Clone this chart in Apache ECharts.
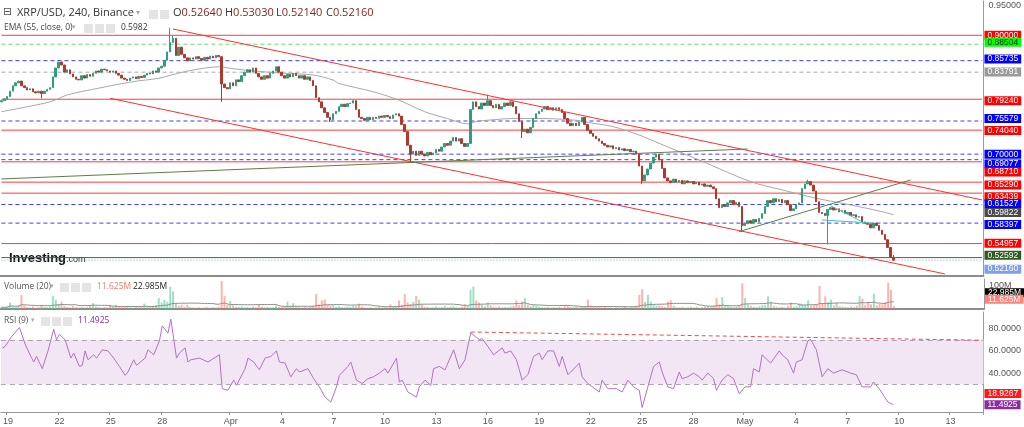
<!DOCTYPE html>
<html>
<head>
<meta charset="utf-8">
<script src="https://cdn.jsdelivr.net/npm/echarts@6/dist/echarts.min.js"></script>
<style>
html, body { margin: 0; padding: 0; background: #fff; }
#chart { width: 1024px; height: 427px; }
</style>
</head>
<body>
<div id="chart"></div>
<script>
// XRP/USD 4h candles, 18 Mar 16:00 -> 9 May 16:00
const firstOpen = 0.788;
const closes = [
    0.790, 0.793,
    0.797, 0.806, 0.815, 0.820, 0.823, 0.815,
    0.812, 0.808, 0.810, 0.805, 0.803, 0.806,
    0.802, 0.806, 0.809, 0.812, 0.830, 0.845,
    0.855, 0.850, 0.838, 0.842, 0.835, 0.830,
    0.826, 0.825, 0.832, 0.828, 0.834, 0.831,
    0.836, 0.840, 0.838, 0.843, 0.842, 0.840,
    0.838, 0.840, 0.836, 0.833, 0.828, 0.826,
    0.824, 0.828, 0.830, 0.827, 0.831, 0.829,
    0.833, 0.836, 0.835, 0.840, 0.838, 0.845,
    0.848, 0.858, 0.872, 0.888, 0.895, 0.866,
    0.880, 0.868, 0.862, 0.857, 0.862, 0.860,
    0.864, 0.861, 0.858, 0.863, 0.860, 0.865,
    0.862, 0.866, 0.864, 0.818, 0.812, 0.810,
    0.820, 0.815, 0.825, 0.822, 0.832, 0.838,
    0.842, 0.838, 0.845, 0.836, 0.830, 0.826,
    0.832, 0.828, 0.836, 0.840, 0.847, 0.838,
    0.832, 0.828, 0.834, 0.830, 0.836, 0.832,
    0.828, 0.832, 0.826, 0.830, 0.824, 0.815,
    0.795, 0.788, 0.778, 0.770, 0.762, 0.758,
    0.768, 0.772, 0.780, 0.784, 0.780, 0.785,
    0.786, 0.790, 0.775, 0.762, 0.760, 0.757,
    0.762, 0.758, 0.762, 0.760, 0.764, 0.762,
    0.765, 0.763, 0.760, 0.766, 0.768, 0.764,
    0.750, 0.738, 0.715, 0.700, 0.705, 0.698,
    0.705, 0.700, 0.697, 0.703, 0.699, 0.702,
    0.708, 0.705, 0.712, 0.718, 0.715, 0.722,
    0.728, 0.722, 0.726, 0.718, 0.713, 0.718,
    0.775, 0.788, 0.780, 0.776, 0.786, 0.782,
    0.790, 0.782, 0.778, 0.784, 0.776, 0.780,
    0.786, 0.782, 0.788, 0.780, 0.768, 0.755,
    0.738, 0.742, 0.736, 0.745, 0.760, 0.768,
    0.772, 0.776, 0.780, 0.775, 0.778, 0.774,
    0.778, 0.775, 0.770, 0.760, 0.752, 0.748,
    0.752, 0.748, 0.754, 0.762, 0.750, 0.740,
    0.735, 0.730, 0.726, 0.722, 0.718, 0.715,
    0.712, 0.714, 0.709, 0.711, 0.707, 0.709,
    0.706, 0.708, 0.704, 0.705, 0.700, 0.680,
    0.655, 0.665, 0.675, 0.685, 0.695, 0.700,
    0.690, 0.676, 0.660, 0.655, 0.652, 0.658,
    0.653, 0.656, 0.650, 0.655, 0.652, 0.654,
    0.650, 0.653, 0.648, 0.650, 0.646, 0.648,
    0.645, 0.642, 0.625, 0.610, 0.615, 0.612,
    0.618, 0.622, 0.615, 0.619, 0.612, 0.580,
    0.583, 0.588, 0.584, 0.590, 0.586, 0.592,
    0.600, 0.612, 0.622, 0.618, 0.625, 0.620,
    0.624, 0.618, 0.622, 0.615, 0.605, 0.608,
    0.615, 0.618, 0.642, 0.650, 0.654, 0.648,
    0.638, 0.620, 0.602, 0.600, 0.597, 0.607,
    0.610, 0.606, 0.608, 0.603, 0.605, 0.600,
    0.602, 0.597, 0.598, 0.594, 0.595, 0.586,
    0.584, 0.582, 0.576, 0.584, 0.580, 0.572,
    0.565, 0.556, 0.543, 0.5264, 0.5216
];
// long wicks (index -> price)
const highWicks = { 59: 0.912, 60: 0.900, 170: 0.800, 282: 0.657, 312: 0.5303 };
const lowWicks = { 14: 0.794, 77: 0.788, 115: 0.754, 143: 0.687, 182: 0.727, 224: 0.650, 259: 0.569, 289: 0.548, 312: 0.5214 };
const lastOpen = 0.5264;

// volume, millions
const volumes = [
    8, 6,
    10, 28, 12, 9, 14, 61,
    15, 9, 7, 11, 6, 8,
    18, 9, 7, 10, 56, 40,
    22, 32, 14, 9, 7, 12,
    8, 6, 10, 7, 9, 14,
    25, 11, 8, 6, 9, 7,
    18, 10, 18, 12, 8, 9,
    14, 7, 6, 9, 8, 11,
    23, 12, 9, 14, 16, 47,
    28, 40, 30, 96, 75, 22,
    14, 18, 10, 18, 9, 7,
    6, 8, 5, 7, 9, 6,
    8, 7, 10, 120, 56, 18,
    35, 16, 10, 9, 12, 8,
    9, 7, 11, 8, 20, 10,
    7, 9, 6, 8, 15, 9,
    8, 12, 32, 14, 25, 10,
    8, 6, 9, 7, 11, 14,
    65, 20, 37, 40, 18, 15,
    16, 10, 12, 9, 8, 11,
    9, 14, 12, 23, 10, 7,
    6, 8, 5, 7, 9, 6,
    8, 7, 20, 9, 12, 37,
    18, 65, 28, 22, 30, 56,
    40, 18, 10, 9, 7, 8,
    11, 7, 9, 13, 8, 10,
    12, 9, 7, 10, 20, 14,
    82, 96, 37, 28, 18, 12,
    28, 16, 10, 8, 12, 7,
    9, 8, 11, 14, 37, 18,
    32, 47, 20, 12, 16, 14,
    10, 8, 7, 9, 6, 8,
    7, 9, 6, 11, 13, 9,
    8, 10, 7, 12, 9, 40,
    15, 10, 8, 9, 7, 8,
    6, 7, 5, 8, 6, 7,
    9, 6, 8, 10, 14, 61,
    85, 30, 61, 32, 18, 14,
    16, 12, 10, 32, 37, 14,
    8, 7, 9, 6, 8, 10,
    7, 9, 6, 8, 10, 12,
    9, 14, 47, 20, 51, 16,
    12, 10, 8, 11, 16, 110,
    47, 20, 14, 10, 9, 12,
    16, 18, 54, 32, 14, 10,
    8, 9, 7, 12, 28, 10,
    12, 25, 20, 18, 37, 14,
    16, 20, 99, 24, 54, 30,
    40, 16, 28, 12, 10, 9,
    8, 11, 9, 14, 56, 45,
    18, 32, 20, 65, 16, 22,
    20, 30, 113, 82, 11.625
];

// EMA(55): [candle index, value]
const emaPoints = [
    [0, 0.7715], [17, 0.788], [23, 0.7996], [34, 0.811], [46, 0.822], [55, 0.8276],
    [60, 0.834], [67, 0.8416], [76, 0.847], [80, 0.8445], [87, 0.8405], [99, 0.836],
    [109, 0.8332], [116, 0.8248], [118, 0.819], [130, 0.805], [139, 0.791], [148, 0.7715],
    [156, 0.760], [163, 0.751], [166, 0.7547], [171, 0.7575], [179, 0.760], [188, 0.760],
    [200, 0.7575], [207, 0.752], [214, 0.7463], [223, 0.7323], [230, 0.7183], [244, 0.6903],
    [262, 0.6538], [273, 0.640], [285, 0.6258], [297, 0.6146], [308, 0.6033], [312, 0.5982]
];

// RSI(9): [candle index, value]
const rsiPoints = [
    [0, 62.7], [1, 64], [3, 72], [6, 81], [8, 66], [10, 55], [11, 50], [12, 55], [14, 44], [16, 60],
    [18, 79.5], [19, 70], [20, 75], [22, 70], [24, 53.5], [25, 58], [27, 46], [28, 47], [29, 60], [30, 52],
    [32, 56.5], [33, 53.5], [35, 61], [37, 60], [39, 53.5], [41, 46], [43, 38], [44, 41], [46, 52], [47, 47],
    [50, 53.5], [51, 61], [53, 56.5], [55, 69], [56, 82.5], [58, 76], [59, 88.6], [61, 53.5], [62, 58], [64, 62.7],
    [65, 50], [66, 52], [69, 53.5], [72, 50], [76, 56.5], [77, 26], [79, 24.5], [81, 33.7], [82, 29], [85, 44],
    [86, 53.5], [88, 50], [90, 43], [92, 53.5], [94, 55], [96, 60], [97, 50], [99, 49], [101, 36.7], [103, 44],
    [104, 41], [107, 44], [109, 35], [111, 27.6], [113, 18.4], [115, 14], [117, 27.6], [118, 38], [121, 46], [122, 50],
    [124, 33.7], [126, 30.6], [128, 35], [130, 36.7], [132, 40], [134, 44], [135, 40], [138, 53.5], [139, 32], [140, 33.7],
    [142, 23], [145, 18.4], [146, 27.6], [148, 33.7], [150, 29], [151, 44], [153, 46], [155, 43], [158, 61], [160, 44],
    [162, 52], [164, 76.4], [166, 72], [167, 70.3], [168, 71], [170, 64], [172, 56.5], [175, 62.7], [176, 58], [178, 60],
    [180, 52], [181, 43], [182, 33.7], [184, 38.6], [186, 55], [188, 58], [189, 52], [191, 60], [193, 60], [195, 46],
    [196, 55], [198, 38.6], [199, 41], [202, 49], [203, 36.7], [205, 30.6], [209, 23], [210, 33.7], [212, 26], [215, 26],
    [217, 23], [219, 33.7], [221, 27.6], [223, 24.5], [224, 9], [226, 27.6], [228, 46], [230, 50], [231, 41], [233, 27.6],
    [235, 26], [237, 41], [238, 35], [240, 36.7], [242, 40], [244, 36.7], [245, 33.7], [247, 40], [249, 35], [250, 24.5],
    [252, 33.7], [254, 38.6], [256, 35], [258, 21.4], [260, 27.6], [262, 27.6], [263, 44], [265, 41], [266, 56.5], [269, 49],
    [272, 60], [273, 56.5], [275, 52], [277, 40], [278, 50], [280, 52], [282, 69], [283, 70.3], [285, 61], [287, 36.7],
    [289, 44], [291, 40], [294, 43], [297, 40], [299, 38.6], [301, 27.6], [304, 27.6], [305, 32], [307, 26], [310, 14],
    [312, 11.4925]
];

// horizontal levels drawn on the price pane
const levelValues = [0.90000, 0.88504, 0.85735, 0.83791, 0.79240, 0.75579, 0.74040, 0.70000, 0.69077,
    0.68710, 0.65290, 0.63439, 0.61527, 0.58397, 0.54957, 0.52592];
const levelKinds = ['red', 'green', 'blue', 'grey', 'red', 'blue', 'red', 'blue', 'blue',
    'red', 'red', 'red', 'blue', 'blue', 'red', 'olive'];
const emaLast = 0.59822;
const lastPrice = 0.52160;

// trend lines, [[index, price], [index, price]]
const redTrends = [[[60, 0.9106], [343, 0.623]], [[38, 0.794], [330, 0.4985]]];
const oliveTrends = [[[0, 0.6583], [261, 0.7087]], [[258, 0.5696], [318, 0.6566]]];
const tealTrends = [[[290, 0.6134], [301, 0.5865]], [[287, 0.5893], [304, 0.5842]]];
const rsiTrend = [[164, 77], [343, 69.6]];
const rsiBand = [30, 70];
const rsiMarks = [18.9267, 11.4925];
const volMaLast = 22.985;

const slots = 344;
const start = Date.UTC(2019, 2, 18, 16);
const months = ['Jan', 'Feb', 'Mar', 'Apr', 'May', 'Jun'];
const categories = [];
for (let i = 0; i < slots; i++) {
    categories.push(new Date(start + i * 4 * 3600 * 1000).toISOString());
}
const isDayTick = (idx) => {
    const d = new Date(categories[idx]);
    const day = d.getUTCDate();
    return d.getUTCHours() === 0 && day % 3 === 1 && day !== 31;
};
const tickText = (val) => {
    const d = new Date(val);
    return d.getUTCDate() === 1 ? months[d.getUTCMonth()] : String(d.getUTCDate());
};

// build OHLC
const candles = [];
let prev = firstOpen;
closes.forEach((c, i) => {
    const o = i === closes.length - 1 ? lastOpen : prev;
    const hi = highWicks[i] !== undefined ? highWicks[i] : Math.max(o, c);
    const lo = lowWicks[i] !== undefined ? lowWicks[i] : Math.min(o, c);
    candles.push([o, c, lo, hi]);
    prev = c;
});

const UP = '#2f9e7e', DOWN = '#b0392e';
const volBars = volumes.map((v, i) => ({
    value: v,
    itemStyle: { color: candles[i][1] >= candles[i][0] ? 'rgba(76,200,150,0.55)' : 'rgba(245,120,110,0.55)' }
}));
const volMa = volumes.map((v, i) => {
    const s = volumes.slice(Math.max(0, i - 19), i + 1);
    return +(s.reduce((a, b) => a + b, 0) / s.length).toFixed(3);
});

const kindStyle = {
    red: { color: '#ff3b3b', dash: 'solid', box: '#ff0000', text: '#ffffff' },
    green: { color: '#66dd66', dash: [4, 3], box: '#00ff00', text: '#222222' },
    blue: { color: '#3d3dff', dash: [4, 3], box: '#0000ff', text: '#ffffff' },
    grey: { color: '#aaaaaa', dash: [4, 3], box: '#9a9a9a', text: '#ffffff' },
    olive: { color: '#3f6d2c', dash: 'solid', box: '#2f5a22', text: '#ffffff' }
};
const labelShift = { 0.88504: 1, 0.83791: 1, 0.69077: 4, 0.6871: 12, 0.6529: 1, 0.63439: 1, 0.61527: 2, 0.59822: -1, 0.58397: -1 };

const boxLabel = (text, bg, color, dy) => ({
    show: true, position: 'end', distance: 1, formatter: text,
    backgroundColor: bg, color: color, fontSize: 8.5, lineHeight: 9, fontFamily: 'Liberation Sans',
    padding: [0, 3, 0, 3], offset: [0, dy || 0]
});
const hidden = () => ({ color: 'rgba(0,0,0,0)', width: 0 });

// level lines as their own series, labels as marks on the candle series
const levelSeries = levelValues.map((v, i) => {
    const st = kindStyle[levelKinds[i]];
    return {
        type: 'line', xAxisIndex: 0, yAxisIndex: 0, data: [[0, v], [slots - 1, v]],
        showSymbol: false, silent: true, z: 1,
        lineStyle: { color: st.color, type: st.dash, width: 1 }
    };
});
levelSeries.push({
    type: 'line', xAxisIndex: 0, yAxisIndex: 0, data: [[0, lastPrice], [slots - 1, lastPrice]],
    showSymbol: false, silent: true, z: 1, lineStyle: { color: '#8fa9e8', type: [1, 2], width: 1 }
});

const mainMarks = [];
levelValues.forEach((v, i) => {
    const st = kindStyle[levelKinds[i]];
    mainMarks.push({ yAxis: v, lineStyle: hidden(), label: boxLabel(v.toFixed(5), st.box, st.text, labelShift[v]) });
});
mainMarks.push({ yAxis: emaLast, lineStyle: hidden(), label: boxLabel(emaLast.toFixed(5), '#4a4a4a', '#fff', labelShift[emaLast]) });
mainMarks.push({ yAxis: lastPrice, lineStyle: hidden(), label: boxLabel(lastPrice.toFixed(5), '#7f9fe6', '#fff', 8) });
const seg = (pair, color) => [
    { coord: pair[0], lineStyle: { color: color, width: 1, type: 'solid' }, label: { show: false } },
    { coord: pair[1] }
];
redTrends.forEach(p => mainMarks.push(seg(p, '#ff3030')));
oliveTrends.forEach(p => mainMarks.push(seg(p, '#5d7f45')));
tealTrends.forEach(p => mainMarks.push(seg(p, '#44c4c4')));

const axisFont = { fontSize: 9, color: '#555', fontFamily: 'Liberation Sans' };

const iconBoxes = (x0, y0, n) => Array.from({ length: n }, (_, k) => ({
    type: 'rect', shape: { x: x0 + k * 11, y: y0, width: 9, height: 9 },
    style: { fill: '#e4e4e4' }, silent: true
}));
const headerRich = {
    l: { fontSize: 11, fill: '#333', fontFamily: 'Open Sans' },
    v: { fontSize: 11, fill: '#8b2323', fontFamily: 'Open Sans' }
};

const chart = echarts.init(document.getElementById('chart'));
chart.setOption({
    animation: false,
    backgroundColor: '#fff',
    grid: [
        { left: 0, right: 40, top: 1, height: 275 },
        { left: 0, right: 40, top: 279, height: 30 },
        { left: 0, right: 40, top: 312, height: 100 }
    ],
    xAxis: [0, 1, 2].map(g => ({
        type: 'category', gridIndex: g, data: categories, boundaryGap: true,
        axisLine: { show: true, lineStyle: { color: g < 2 ? '#8c8c8c' : '#9a9a9a', width: g < 2 ? 2 : 1 } },
        axisTick: { show: g === 2, interval: isDayTick, length: 3, lineStyle: { color: '#999' } },
        axisLabel: g === 2 ? Object.assign({ interval: isDayTick, formatter: tickText, margin: 5 }, axisFont) : { show: false },
        splitLine: { show: false }
    })),
    yAxis: [
        {
            type: 'value', gridIndex: 0, position: 'right', min: 0.495, max: 0.9577, interval: 0.005,
            axisLine: { show: true, lineStyle: { color: '#999' } }, axisTick: { show: false }, splitLine: { show: false },
            axisLabel: Object.assign({ margin: 5, formatter: v => Math.abs(v - 0.95) < 1e-6 ? '0.95000' : '' }, axisFont)
        },
        {
            type: 'value', gridIndex: 1, position: 'right', min: 0, max: 129, interval: 100,
            axisLine: { show: true, lineStyle: { color: '#999' } }, axisTick: { show: false }, splitLine: { show: false },
            axisLabel: Object.assign({ margin: 5, formatter: v => v === 100 ? '100M' : '' }, axisFont)
        },
        {
            type: 'value', gridIndex: 2, position: 'right', min: 5, max: 95, interval: 5,
            axisLine: { show: true, lineStyle: { color: '#999' } }, axisTick: { show: false }, splitLine: { show: false },
            axisLabel: Object.assign({ margin: 5, formatter: v => [40, 60, 80].includes(v) ? v.toFixed(4) : '' }, axisFont)
        }
    ],
    series: [
        ...levelSeries,
        {
            type: 'candlestick', xAxisIndex: 0, yAxisIndex: 0, data: candles, barWidth: 2, z: 3,
            itemStyle: { color: UP, color0: DOWN, borderColor: UP, borderColor0: DOWN, borderWidth: 1 },
            markLine: { symbol: 'none', silent: true, animation: false, data: mainMarks }
        },
        {
            type: 'line', xAxisIndex: 0, yAxisIndex: 0, data: emaPoints, smooth: 0.3,
            showSymbol: false, lineStyle: { color: '#a8a8a8', width: 1 }, z: 2
        },
        {
            type: 'bar', xAxisIndex: 1, yAxisIndex: 1, data: volBars, barWidth: 2,
            markLine: {
                symbol: 'none', silent: true, animation: false,
                data: [
                    { yAxis: volMaLast, lineStyle: hidden(), label: boxLabel(volMaLast.toFixed(3) + 'M', '#000', '#fff', -11) },
                    { yAxis: volumes[volumes.length - 1], lineStyle: hidden(), label: boxLabel(volumes[volumes.length - 1].toFixed(3) + 'M', '#ff8276', '#fff', -7) }
                ]
            }
        },
        {
            type: 'line', xAxisIndex: 1, yAxisIndex: 1, data: volMa, showSymbol: false,
            lineStyle: { color: '#8f8f8f', width: 1 }
        },
        {
            type: 'line', xAxisIndex: 2, yAxisIndex: 2, data: rsiPoints, showSymbol: false,
            lineStyle: { color: '#b273c4', width: 1 },
            markArea: { silent: true, itemStyle: { color: '#f2e6f4' }, data: [[{ yAxis: rsiBand[0] }, { yAxis: rsiBand[1] }]] },
            markLine: {
                symbol: 'none', silent: true, animation: false,
                data: [
                    { yAxis: rsiBand[1], lineStyle: { color: '#b0a4b0', type: [5, 4] }, label: { show: false } },
                    { yAxis: rsiBand[0], lineStyle: { color: '#b0a4b0', type: [5, 4] }, label: { show: false } },
                    [{ coord: rsiTrend[0], lineStyle: { color: '#f04a4a', type: [4, 3] }, label: { show: false } }, { coord: rsiTrend[1] }],
                    { yAxis: rsiMarks[0], lineStyle: hidden(), label: boxLabel(rsiMarks[0].toFixed(4), '#ff1a1a', '#fff', -3) },
                    { yAxis: rsiMarks[1], lineStyle: hidden(), label: boxLabel(rsiMarks[1].toFixed(4), '#8e2ba3', '#fff', 0) }
                ]
            }
        }
    ],
    graphic: [
        { type: 'text', left: 3, top: 7, style: { text: '⊟', fontSize: 11, fill: '#555', fontFamily: 'DejaVu Sans' } },
        { type: 'text', left: 17, top: 7, style: { text: 'XRP/USD, 240, Binance', fontSize: 11, fill: '#333', fontFamily: 'Open Sans' } },
        { type: 'text', left: 136, top: 9, style: { text: '▾', fontSize: 8, fill: '#aaa' } },
        ...iconBoxes(149, 10, 2),
        { type: 'text', left: 173, top: 7, style: { rich: headerRich, text: '{l|O}{v|0.52640}' } },
        { type: 'text', left: 225, top: 7, style: { rich: headerRich, text: '{l|H}{v|0.53030}' } },
        { type: 'text', left: 276, top: 7, style: { rich: headerRich, text: '{l|L}{v|0.52140}' } },
        { type: 'text', left: 326, top: 7, style: { rich: headerRich, text: '{l|C}{v|0.52160}' } },
        { type: 'text', left: 4, top: 23, style: { text: 'EMA (55, close, 0)', fontSize: 8.5, fill: '#444', fontFamily: 'Open Sans' } },
        { type: 'text', left: 72, top: 24, style: { text: '▾', fontSize: 7, fill: '#aaa' } },
        ...iconBoxes(84, 24, 3),
        { type: 'text', left: 121, top: 23, style: { text: '0.5982', fontSize: 8.5, fill: '#333', fontFamily: 'Open Sans' } },
        { type: 'text', left: 4, top: 282, style: { text: 'Volume (20)', fontSize: 8.5, fill: '#555', fontFamily: 'Open Sans' } },
        { type: 'text', left: 50, top: 283, style: { text: '▾', fontSize: 7, fill: '#aaa' } },
        ...iconBoxes(60, 283, 3),
        { type: 'text', left: 97, top: 282, style: { text: '11.625M', fontSize: 8.5, fill: '#f47a6e', fontFamily: 'Open Sans' } },
        { type: 'text', left: 133, top: 282, style: { text: '22.985M', fontSize: 8.5, fill: '#222', fontFamily: 'Open Sans' } },
        { type: 'text', left: 4, top: 316, style: { text: 'RSI (9)', fontSize: 8.5, fill: '#555', fontFamily: 'Open Sans' } },
        { type: 'text', left: 31, top: 317, style: { text: '▾', fontSize: 7, fill: '#aaa' } },
        ...iconBoxes(41, 317, 3),
        { type: 'text', left: 78, top: 316, style: { text: '11.4925', fontSize: 8.5, fill: '#8e2ba3', fontFamily: 'Open Sans' } },
        { type: 'text', left: 9, top: 252, style: { rich: { a: { fontSize: 13, fontWeight: 'bold', fill: '#111', fontFamily: 'Liberation Sans' }, b: { fontSize: 9, fill: '#333', fontFamily: 'Liberation Sans', padding: [3, 0, 0, 0] } }, text: '{a|Investing}{b|.com}' } }
    ]
});
</script>
</body>
</html>
